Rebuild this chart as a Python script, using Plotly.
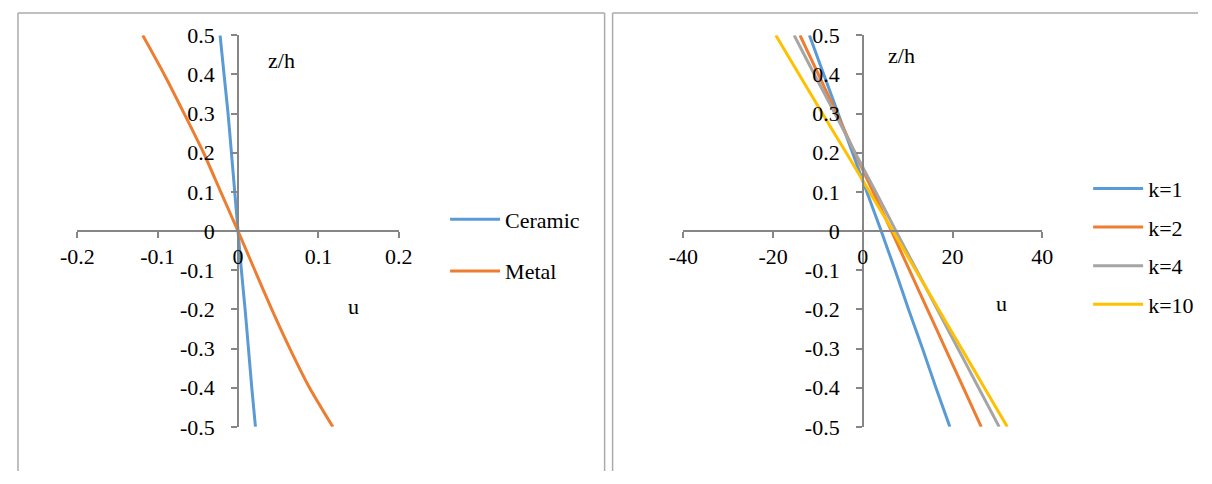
import plotly.graph_objects as go

# ---- data ----
z_vals = [0.5, 0.4, 0.3, 0.2, 0.1, 0.0, -0.1, -0.2, -0.3, -0.4, -0.5]

ceramic_u = [-0.0223, -0.0174, -0.0124, -0.0082, -0.0041, 0.0, 0.0042, 0.0088, 0.0130, 0.0171, 0.0217]
metal_u = [-0.1186, -0.0918, -0.0670, -0.0429, -0.0215, 0.0, 0.0209, 0.0420, 0.0645, 0.0890, 0.1180]

k1_u = [-11.9, -8.7, -5.5, -2.3, 0.9, 4.1, 7.2, 10.2, 13.3, 16.3, 19.4]
k2_u = [-14.0, -9.9, -5.8, -1.8, 2.3, 6.4, 10.4, 14.4, 18.4, 22.4, 26.4]
k4_u = [-15.3, -10.8, -6.2, -1.7, 2.9, 7.4, 12.0, 16.6, 21.2, 25.8, 30.4]
k10_u = [-19.4, -14.2, -9.0, -3.7, 1.5, 6.7, 11.8, 16.9, 22.0, 27.1, 32.2]

left_names = ["Ceramic", "Metal"]
right_names = ["k=1", "k=2", "k=4", "k=10"]

y_tickvals = [0.5, 0.4, 0.3, 0.2, 0.1, 0.0, -0.1, -0.2, -0.3, -0.4, -0.5]
y_ticktext = ["0.5", "0.4", "0.3", "0.2", "0.1", "0", "-0.1", "-0.2", "-0.3", "-0.4", "-0.5"]
x1_tickvals = [-0.2, -0.1, 0.0, 0.1, 0.2]
x1_ticktext = ["-0.2", "-0.1", "0", "0.1", "0.2"]
x2_tickvals = [-40, -20, 0, 20, 40]
x2_ticktext = ["-40", "-20", "0", "20", "40"]

# ---- styling ----
FONT = "Liberation Serif"
FS = 22
AXIS_COL = "#868686"
colors_left = ["#5B9BD5", "#ED7D31"]
colors_right = ["#5B9BD5", "#ED7D31", "#A5A5A5", "#FFC000"]
W, H = 1212, 484

# the captured picture maps page pixels as: out = A * page + B
AX, BX = 0.9774, 15.6
AY, BY = 0.953, 10.6


def px(xo):
    """paper x fraction for a target picture x (pixels)"""
    return (xo - BX) / AX / W


def py(yo):
    """paper y fraction for a target picture y (pixels from top)"""
    return 1 - (yo - BY) / AY / H


fig = go.Figure()

for name, u, c in zip(left_names, [ceramic_u, metal_u], colors_left):
    fig.add_trace(go.Scatter(x=u, y=z_vals, mode="lines", name=name,
                             line=dict(color=c, width=3, shape="spline", smoothing=0.6),
                             xaxis="x", yaxis="y", legend="legend",
                             legendgroup=name))

for name, u, c in zip(right_names, [k1_u, k2_u, k4_u, k10_u], colors_right):
    fig.add_trace(go.Scatter(x=u, y=z_vals, mode="lines", name=name,
                             line=dict(color=c, width=3, shape="spline", smoothing=0.6),
                             xaxis="x2", yaxis="y2", legend="legend2",
                             legendgroup=name))

ydom = [py(427.5), py(34)]
ymid = (ydom[0] + ydom[1]) / 2

common_axis = dict(showline=True, linecolor=AXIS_COL, linewidth=1.5,
                   ticks="outside", ticklen=6, tickwidth=1.5, tickcolor=AXIS_COL,
                   showgrid=False, zeroline=False,
                   tickfont=dict(family=FONT, size=FS, color="black"),
                   anchor="free", fixedrange=True)

legend_common = dict(xanchor="left", yanchor="top", bgcolor="rgba(0,0,0,0)",
                     borderwidth=0, itemwidth=50, traceorder="grouped",
                     font=dict(family=FONT, size=FS, color="black"))

fig.update_layout(
    width=W, height=H, autosize=False,
    margin=dict(l=0, r=0, t=0, b=0),
    paper_bgcolor="white", plot_bgcolor="white",
    font=dict(family=FONT, size=FS, color="black"),
    xaxis=dict(common_axis, domain=[px(76.1), px(398.5)], range=[-0.2, 0.2],
               tickvals=x1_tickvals, ticktext=x1_ticktext, position=ymid,
               ticklabelstandoff=0),
    yaxis=dict(common_axis, domain=ydom, range=[-0.5, 0.5],
               tickvals=y_tickvals, ticktext=y_ticktext, position=px(237.3),
               ticklabelstandoff=12),
    xaxis2=dict(common_axis, domain=[px(684), px(1044)], range=[-40, 40],
                tickvals=x2_tickvals, ticktext=x2_ticktext, position=ymid,
                ticklabelstandoff=0),
    yaxis2=dict(common_axis, domain=ydom, range=[-0.5, 0.5],
                tickvals=y_tickvals, ticktext=y_ticktext, position=px(864),
                ticklabelstandoff=12),
    legend=dict(legend_common, x=px(445), y=py(198), tracegroupgap=20),
    legend2=dict(legend_common, x=px(1090), y=py(167), tracegroupgap=7),
    showlegend=True,
)

# axis titles placed like the reference
ann_font = dict(family=FONT, size=FS, color="black")
fig.add_annotation(text="z/h", x=0.054, y=0.436, xref="x", yref="y", showarrow=False, font=ann_font)
fig.add_annotation(text="u", x=0.1434, y=-0.192, xref="x", yref="y", showarrow=False, font=ann_font)
fig.add_annotation(text="z/h", x=8.7, y=0.449, xref="x2", yref="y2", showarrow=False, font=ann_font)
fig.add_annotation(text="u", x=30.9, y=-0.184, xref="x2", yref="y2", showarrow=False, font=ann_font)

# chart-area borders (kept inside the page)
BORDER = dict(color="#ABABAB", width=1.5)
top_y = 1 - 1 / H
lft = 1 / W
for (x0, y0, x1, y1) in [
    (lft, 0, lft, top_y), (lft, top_y, px(605), top_y), (px(605), 0, px(605), top_y),
    (px(613), 0, px(613), top_y), (px(613), top_y, 1, top_y),
]:
    fig.add_shape(type="line", xref="paper", yref="paper",
                  x0=x0, y0=y0, x1=x1, y1=y1, line=BORDER)

post = ("document.documentElement.style.margin='0';"
        "document.documentElement.style.padding='0';"
        "document.documentElement.style.overflow='hidden';"
        "document.body.style.margin='0';document.body.style.padding='0';"
        "document.body.style.overflow='hidden';")

fig.write_html("out.html", post_script=post, config={"displayModeBar": False})
